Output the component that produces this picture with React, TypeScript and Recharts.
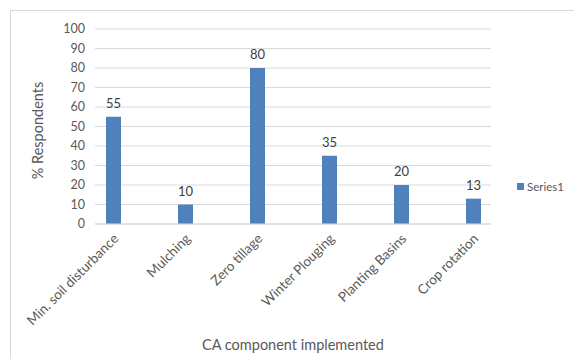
import { Bar, BarChart, CartesianGrid, LabelList, Legend, XAxis, YAxis } from "recharts";

const categories = [
  "Min. soil disturbance",
  "Mulching",
  "Zero tillage",
  "Winter Plouging",
  "Planting Basins",
  "Crop rotation",
];
const respondents = [55, 10, 80, 35, 20, 13];
const yTicks = [0, 10, 20, 30, 40, 50, 60, 70, 80, 90, 100];

const data = categories.map((name, i) => ({ name, value: respondents[i] }));

const BAR_BLUE = "#4F81BD";
const TEXT_GREY = "#595959";
const GRID_GREY = "#d9d9d9";

function AngledTick({ x, y, payload }: any) {
  return (
    <g transform={`translate(${x},${y + 7})`}>
      <text
        x={4}
        y={0}
        dy="0.35em"
        textAnchor="end"
        transform="rotate(-45)"
        fill={TEXT_GREY}
        fontSize={13.5}
      >
        {payload.value}
      </text>
    </g>
  );
}

function SeriesLegend({ payload }: any) {
  return (
    <div>
      {(payload || []).map((item: any) => (
        <div
          key={item.value}
          style={{ display: "flex", alignItems: "center", fontSize: 11.5, color: TEXT_GREY, lineHeight: "15px" }}
        >
          <span style={{ width: 7, height: 7, background: item.color, marginRight: 3 }} />
          {item.value}
        </div>
      ))}
    </div>
  );
}

export default function App() {
  return (
    <div
      style={{
        position: "fixed",
        left: 0,
        top: 0,
        width: 574,
        height: 359,
        background: "#fff",
        overflow: "hidden",
        fontFamily: "Lato, 'Open Sans', sans-serif",
      }}
    >
      <div
        style={{
          position: "absolute",
          left: 10,
          top: 10,
          width: 580,
          height: 380,
          border: `1px solid ${GRID_GREY}`,
        }}
      />
      <BarChart
        width={574}
        height={359}
        data={data}
        margin={{ top: 29, right: 83, bottom: 0, left: 10 }}
        style={{ position: "absolute", left: 0, top: 0 }}
      >
        <CartesianGrid vertical={false} stroke={GRID_GREY} />
        <XAxis
          dataKey="name"
          height={135}
          interval={0}
          padding={{ left: -18, right: -18 }}
          tickLine={false}
          axisLine={{ stroke: GRID_GREY }}
          tick={<AngledTick />}
          label={(props: any) => {
            const vb = props.viewBox;
            return (
              <text x={vb.x + vb.width / 2} y={vb.y + 126} textAnchor="middle" fill={TEXT_GREY} fontSize={14.5}>
                CA component implemented
              </text>
            );
          }}
        />
        <YAxis
          width={85}
          domain={[0, 100]}
          ticks={yTicks}
          interval={0}
          tickLine={false}
          axisLine={false}
          tickMargin={4}
          tick={{ fill: TEXT_GREY, fontSize: 12.5 }}
          label={(props: any) => {
            const vb = props.viewBox;
            const cx = vb.x + 28;
            const cy = vb.y + vb.height / 2 + 4;
            return (
              <text
                x={cx}
                y={cy}
                dy="0.35em"
                transform={`rotate(-90 ${cx} ${cy})`}
                textAnchor="middle"
                fill={TEXT_GREY}
                fontSize={14.5}
              >
                % Respondents
              </text>
            );
          }}
        />
        <Legend
          layout="horizontal"
          align="center"
          verticalAlign="middle"
          content={<SeriesLegend />}
          wrapperStyle={{ left: 517, top: 179, width: "auto" }}
        />
        <Bar dataKey="value" name="Series1" fill={BAR_BLUE} barSize={15} isAnimationActive={false}>
          <LabelList dataKey="value" position="top" offset={9} fill="#404040" fontSize={13} />
        </Bar>
      </BarChart>
    </div>
  );
}
